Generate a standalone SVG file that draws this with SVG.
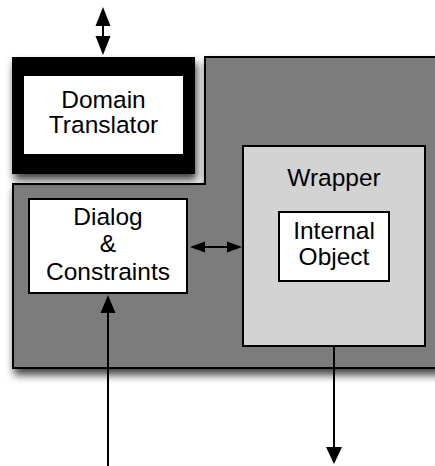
<svg xmlns="http://www.w3.org/2000/svg" width="435" height="466" viewBox="0 0 435 466">
<defs>
<filter id="sh" x="-20%" y="-20%" width="140%" height="140%">
<feDropShadow dx="2" dy="6" stdDeviation="4.5" flood-color="#000" flood-opacity="0.75"/>
</filter>
</defs>
<style>
text{font-family:"Liberation Sans",Arial,sans-serif;font-size:24.5px;fill:#000;text-anchor:middle}
.box{stroke:#000;stroke-width:2}
.ln{stroke:#000;stroke-width:2;fill:none}
.head{fill:#000;stroke:none}
</style>
<g id="container">
<path class="box" d="M205,57 H440 V368 H13 V184 H205 Z" fill="#7b7b7b" filter="url(#sh)"/>
</g>
<g id="domain-translator">
<rect x="12" y="57" width="183" height="117" fill="#000" filter="url(#sh)"/>
<rect x="24" y="76" width="159" height="78" fill="#fff"/>
<text x="103.5" y="108">Domain</text>
<text x="103.5" y="133">Translator</text>
</g>
<g id="dialog">
<rect class="box" x="29" y="199" width="158" height="94" fill="#fff"/>
<text x="108" y="225">Dialog</text>
<text x="108" y="252">&amp;</text>
<text x="108" y="280">Constraints</text>
</g>
<g id="wrapper">
<rect class="box" x="243" y="146" width="182" height="200" fill="#d3d3d3"/>
<text x="334" y="186">Wrapper</text>
</g>
<g id="internal-object">
<rect class="box" x="279" y="212" width="110" height="69" fill="#fff"/>
<text x="334" y="239">Internal</text>
<text x="334" y="265">Object</text>
</g>
<g id="connectors">
<line class="ln" x1="103" y1="20" x2="103" y2="42"/>
<path class="head" d="M103,7 L110.5,26 L95.5,26 Z"/>
<path class="head" d="M103,55 L110.5,36 L95.5,36 Z"/>
<line class="ln" x1="200" y1="247" x2="232" y2="247"/>
<path class="head" d="M190,247 L205,241.5 L205,252.5 Z"/>
<path class="head" d="M242,247 L227,241.5 L227,252.5 Z"/>
<line class="ln" x1="108" y1="466" x2="108" y2="310"/>
<path class="head" d="M108,295 L115.5,313 L100.5,313 Z"/>
<line class="ln" x1="334" y1="346" x2="334" y2="450"/>
<path class="head" d="M334,464 L342,447 L326,447 Z"/>
</g>
</svg>
